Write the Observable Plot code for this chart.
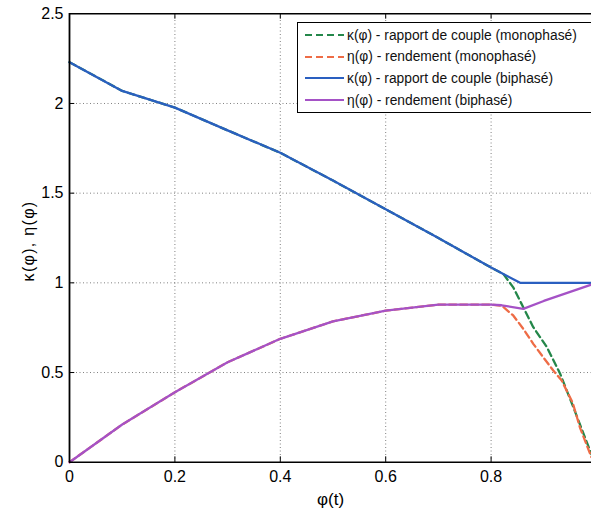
<!DOCTYPE html>
<html>
<head>
<meta charset="utf-8">
<script src="https://cdn.jsdelivr.net/npm/d3@7"></script>
<script src="https://cdn.jsdelivr.net/npm/@observablehq/plot@0.6"></script>
<style>
  html, body { margin: 0; padding: 0; background: #fff; }
  #wrap { position: relative; width: 591px; height: 512px; overflow: hidden; font-family: "Liberation Sans", Arial, sans-serif; }
  #legend { position: absolute; left: 297px; top: 22px; width: 310px; height: 91px; border: 1px solid #000; background: #fff; box-sizing: border-box; }
  .entry { position: absolute; left: 7px; height: 20px; display: flex; align-items: center; font-size: 13.8px; color: #111; white-space: nowrap; }
  .entry svg { margin-right: 3px; }
</style>
</head>
<body>
<div id="wrap"></div>
<script>
// ---- data ----
const kappaBiX = [0, 0.1, 0.2, 0.3, 0.4, 0.5, 0.6, 0.7, 0.8, 0.855, 0.9, 1.0];
const kappaBiY = [2.23, 2.07, 1.977, 1.85, 1.725, 1.57, 1.41, 1.25, 1.085, 1.0, 1.0, 1.0];

const etaBiX = [0, 0.1, 0.2, 0.3, 0.4, 0.5, 0.6, 0.7, 0.8, 0.82, 0.861, 0.9, 0.95, 1.0];
const etaBiY = [0, 0.21, 0.39, 0.557, 0.688, 0.785, 0.845, 0.878, 0.878, 0.875, 0.855, 0.899, 0.95, 1.0];

const kappaMonoX = [0, 0.1, 0.2, 0.3, 0.4, 0.5, 0.6, 0.7, 0.8, 0.823, 0.842, 0.861, 0.88, 0.906, 0.931, 0.956, 0.99, 1.0];
const kappaMonoY = [2.23, 2.07, 1.977, 1.85, 1.725, 1.57, 1.41, 1.25, 1.085, 1.05, 0.975, 0.864, 0.753, 0.641, 0.493, 0.307, 0.047, 0.0];

const etaMonoX = [0, 0.1, 0.2, 0.3, 0.4, 0.5, 0.6, 0.7, 0.8, 0.82, 0.842, 0.861, 0.88, 0.899, 0.918, 0.934, 0.955, 0.969, 0.99, 1.0];
const etaMonoY = [0, 0.21, 0.39, 0.557, 0.688, 0.785, 0.845, 0.878, 0.878, 0.873, 0.818, 0.744, 0.66, 0.585, 0.511, 0.455, 0.33, 0.19, 0.03, 0.0];

const seriesNames = [
  "κ(φ) - rapport de couple (monophasé)",
  "η(φ) - rendement (monophasé)",
  "κ(φ) - rapport de couple (biphasé)",
  "η(φ) - rendement (biphasé)"
];
const seriesColors = ["#24874a", "#ee6c46", "#2a5fc0", "#a552c6"];
const seriesDashed = [true, true, false, false];

const xTicks = [0, 0.2, 0.4, 0.6, 0.8];
const xGrid = [0.2, 0.4, 0.6, 0.8, 1.0];
const yTicks = [0, 0.5, 1, 1.5, 2, 2.5];
const yGrid = [0.5, 1, 1.5, 2];
const xLabel = "φ(t)";
const yLabel = "κ(φ), η(φ)";

// ---- build tables ----
const toRows = (xs, ys) => xs.map((x, i) => ({x, y: ys[i]}));
const series = [
  toRows(kappaMonoX, kappaMonoY),
  toRows(etaMonoX, etaMonoY),
  toRows(kappaBiX, kappaBiY),
  toRows(etaBiX, etaBiY)
];

const gridStyle = {stroke: "#555", strokeOpacity: 0.75, strokeDasharray: "1,2.5", strokeWidth: 1};

const lineMarks = series.map((rows, i) =>
  Plot.line(rows, {
    x: "x", y: "y",
    stroke: seriesColors[i],
    strokeWidth: 2.3,
    strokeDasharray: seriesDashed[i] ? "7,4" : null,
    curve: "linear"
  })
);

const chart = Plot.plot({
  width: 591,
  height: 512,
  marginLeft: 69,
  marginTop: 13,
  marginBottom: 50,
  marginRight: 0,
  style: {fontFamily: "'Liberation Sans', Arial, sans-serif", fontSize: "16px", background: "#fff", color: "#000"},
  x: {domain: [0, 1], range: [69, 596]},
  y: {domain: [0, 2.5], range: [461.7, 13.3]},
  marks: [
    Plot.ruleX(xGrid, gridStyle),
    Plot.ruleY(yGrid, gridStyle),
    // inward tick marks
    Plot.ruleX(xGrid, {y1: 0, y2: 0.03, stroke: "#000"}),
    Plot.ruleX(xGrid, {y1: 2.47, y2: 2.5, stroke: "#000"}),
    Plot.ruleY(yGrid, {x1: 0, x2: 0.01, stroke: "#000"}),
    ...lineMarks,
    // frame lines
    Plot.ruleX([0], {stroke: "#000", strokeWidth: 1.8}),
    Plot.ruleY([0], {stroke: "#000", strokeWidth: 1.5}),
    Plot.ruleY([2.5], {stroke: "#000", strokeWidth: 1.5}),
    Plot.axisX(xTicks, {tickSize: 0, tickPadding: 8, tickFormat: d => String(d), label: null, fontSize: 16}),
    Plot.axisY(yTicks, {tickSize: 0, tickPadding: 6, tickFormat: d => String(d), label: null, fontSize: 16}),
    Plot.text([xLabel], {frameAnchor: "bottom", textAnchor: "middle", lineAnchor: "middle", dy: 37, fontSize: 17, fill: "#000", className: "xlab"}),
    Plot.text([yLabel], {frameAnchor: "left", textAnchor: "middle", lineAnchor: "middle", dx: -41, dy: 3, rotate: -90, fontSize: 16, fill: "#000", className: "ylab"})
  ]
});

const wrap = document.getElementById("wrap");
wrap.appendChild(chart);
d3.select(chart).selectAll("g.ylab text").style("letter-spacing", "1.3px");

// ---- legend ----
const legend = document.createElement("div");
legend.id = "legend";
seriesNames.forEach((name, i) => {
  const e = document.createElement("div");
  e.className = "entry";
  e.style.top = (2 + i * 21.7) + "px";
  const dash = seriesDashed[i] ? 'stroke-dasharray="7,4"' : "";
  e.innerHTML = `<svg width="39" height="6"><line x1="0" y1="3" x2="39" y2="3" stroke="${seriesColors[i]}" stroke-width="2.2" ${dash}/></svg><span>${name}</span>`;
  legend.appendChild(e);
});
wrap.appendChild(legend);
</script>
</body>
</html>
